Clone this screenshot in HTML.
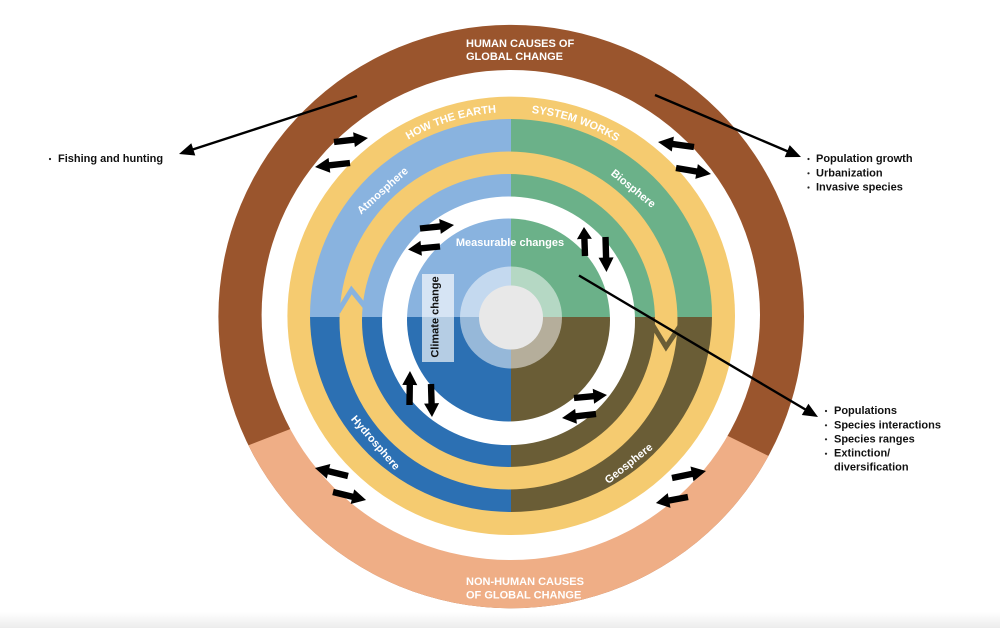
<!DOCTYPE html>
<html><head><meta charset="utf-8">
<style>
html,body{margin:0;padding:0;background:#fff;}
svg{display:block;}
text{font-family:"Liberation Sans",Arial,sans-serif;font-weight:bold;font-size:11px;}
</style></head>
<body>
<svg width="1000" height="628" viewBox="0 0 1000 628" xmlns="http://www.w3.org/2000/svg">
<defs>
 <g id="quads">
  <rect x="0" y="0" width="511" height="317" fill="#89B3DF"/>
  <rect x="511" y="0" width="489" height="317" fill="#6BB189"/>
  <rect x="0" y="317" width="511" height="311" fill="#2C70B3"/>
  <rect x="511" y="317" width="489" height="311" fill="#6A5D36"/>
 </g>
 <clipPath id="cOuter"><ellipse cx="511.2" cy="316.6" rx="292.8" ry="291.7"/></clipPath>
 <clipPath id="cBand"><ellipse cx="511" cy="315.5" rx="201" ry="196.5"/></clipPath>
 <clipPath id="cMid"><circle cx="508.5" cy="320.5" r="146.5"/></clipPath>
 <clipPath id="cDisk"><circle cx="508.5" cy="320" r="101.5"/></clipPath>
 <polygon id="ba" points="0,-3.2 20,-3.2 20,-7.5 34,0 20,7.5 20,3.2 0,3.2" fill="#000"/>
 <path id="arcTop" d="M366.75,171.75 A204,204 0 0 1 655.25,171.75" fill="none"/>
 <linearGradient id="gb" x1="0" y1="0" x2="0" y2="1"><stop offset="0" stop-color="#ffffff"/><stop offset="1" stop-color="#ececec"/></linearGradient>
</defs>

<rect width="1000" height="628" fill="#fff"/>
<rect x="0" y="612" width="1000" height="16" fill="url(#gb)"/>

<!-- outer causes ring -->
<ellipse cx="511.2" cy="316.6" rx="292.8" ry="291.7" fill="#9A552D"/>
<polygon clip-path="url(#cOuter)" points="150,483.6 320,417.5 700,422.2 860,501.1 860,640 150,640" fill="#EFAE86"/>
<ellipse cx="510.8" cy="315" rx="249.2" ry="245" fill="#fff"/>

<!-- outer yellow ring -->
<ellipse cx="511.2" cy="315.8" rx="223.8" ry="219.2" fill="#F5CB70"/>
<!-- sphere band -->
<use href="#quads" clip-path="url(#cBand)"/>
<!-- inner yellow cycle ring -->
<circle cx="508.5" cy="320.5" r="169" fill="#F5CB70"/>
<use href="#quads" clip-path="url(#cMid)"/>
<!-- chevron gaps -->
<polyline points="338,312 351.5,290 366,308" fill="none" stroke="#89B3DF" stroke-width="5"/>
<polyline points="652,324 666,347 680,326" fill="none" stroke="#6A5D36" stroke-width="5"/>

<!-- white gap and inner disk -->
<ellipse cx="508.5" cy="320.8" rx="126.5" ry="124.3" fill="#fff"/>
<use href="#quads" clip-path="url(#cDisk)"/>
<circle cx="511" cy="317.5" r="51" fill="#fff" fill-opacity="0.5"/>
<circle cx="511" cy="317.5" r="32" fill="#E8E8E8"/>

<!-- climate change box -->
<rect x="422" y="274" width="32" height="88" fill="#fff" fill-opacity="0.65"/>
<text transform="translate(435.5,317) rotate(-90)" text-anchor="middle" dominant-baseline="central" fill="#111">Climate change</text>

<!-- labels -->
<text fill="#fff" text-anchor="middle"><textPath href="#arcTop" startOffset="99">HOW THE EARTH</textPath></text>
<text fill="#fff" text-anchor="middle"><textPath href="#arcTop" startOffset="226">SYSTEM WORKS</textPath></text>
<text transform="translate(383,191) rotate(-42)" text-anchor="middle" dominant-baseline="central" fill="#fff">Atmosphere</text>
<text transform="translate(633,189) rotate(39)" text-anchor="middle" dominant-baseline="central" fill="#fff">Biosphere</text>
<text transform="translate(375,443) rotate(49)" text-anchor="middle" dominant-baseline="central" fill="#fff">Hydrosphere</text>
<text transform="translate(629,464) rotate(-38.5)" text-anchor="middle" dominant-baseline="central" fill="#fff">Geosphere</text>
<text x="510" y="243" text-anchor="middle" dominant-baseline="central" fill="#fff">Measurable changes</text>

<text x="466" y="47" fill="#fff">HUMAN CAUSES OF</text>
<text x="466" y="60" fill="#fff">GLOBAL CHANGE</text>
<text x="466" y="585" fill="#fff">NON-HUMAN CAUSES</text>
<text x="466" y="598.5" fill="#fff">OF GLOBAL CHANGE</text>

<!-- block arrows -->
<use href="#ba" transform="translate(334,142) rotate(-6.7) scale(1.006,1)"/>
<use href="#ba" transform="translate(350,163) rotate(173.5) scale(1.035,1)"/>
<use href="#ba" transform="translate(694,147) rotate(187.9) scale(1.068,1)"/>
<use href="#ba" transform="translate(676,168) rotate(9.7) scale(1.044,1)"/>
<use href="#ba" transform="translate(420,228.5) rotate(-5.9) scale(1.006,1)"/>
<use href="#ba" transform="translate(440,246.5) rotate(174.6) scale(0.944,1)"/>
<use href="#ba" transform="translate(585,256) rotate(-92) scale(0.853,1)"/>
<use href="#ba" transform="translate(605.5,237) rotate(88.4) scale(1.03,1)"/>
<use href="#ba" transform="translate(409.5,405) rotate(-89.2) scale(1,1)"/>
<use href="#ba" transform="translate(431,384) rotate(88.3) scale(0.97,1)"/>
<use href="#ba" transform="translate(574,398) rotate(-5.2) scale(0.974,1)"/>
<use href="#ba" transform="translate(596,414) rotate(173.3) scale(1.006,1)"/>
<use href="#ba" transform="translate(348,476) rotate(193.6) scale(1,1)"/>
<use href="#ba" transform="translate(333,492) rotate(13.6) scale(1,1)"/>
<use href="#ba" transform="translate(672,478) rotate(-11.6) scale(1.02,1)"/>
<use href="#ba" transform="translate(688,497) rotate(169.4) scale(0.96,1)"/>

<!-- connector lines -->
<line x1="357" y1="96" x2="188.5" y2="150.9" stroke="#000" stroke-width="2.4"/>
<polygon points="179,154 195.3,155.5 191.3,143.2" fill="#000"/>
<line x1="655" y1="95" x2="791.8" y2="153.1" stroke="#000" stroke-width="2.4"/>
<polygon points="801,157 784.7,157.1 789.7,145.1" fill="#000"/>
<line x1="579" y1="275.5" x2="809.4" y2="411.9" stroke="#000" stroke-width="2.4"/>
<polygon points="818,417 801.8,415 808.4,403.8" fill="#000"/>

<!-- lists -->
<circle cx="50" cy="159" r="1.1" fill="#222"/>
<text x="58" y="162" fill="#111">Fishing and hunting</text>

<circle cx="808.5" cy="159" r="1.1" fill="#222"/>
<text x="816" y="162" fill="#111">Population growth</text>
<circle cx="808.5" cy="173.3" r="1.1" fill="#222"/>
<text x="816" y="176.3" fill="#111">Urbanization</text>
<circle cx="808.5" cy="187.5" r="1.1" fill="#222"/>
<text x="816" y="190.5" fill="#111">Invasive species</text>

<circle cx="826" cy="411" r="1.1" fill="#222"/>
<text x="834" y="414" fill="#111">Populations</text>
<circle cx="826" cy="425.3" r="1.1" fill="#222"/>
<text x="834" y="428.3" fill="#111">Species interactions</text>
<circle cx="826" cy="439.3" r="1.1" fill="#222"/>
<text x="834" y="442.3" fill="#111">Species ranges</text>
<circle cx="826" cy="453.7" r="1.1" fill="#222"/>
<text x="834" y="456.7" fill="#111">Extinction/</text>
<text x="834" y="470.5" fill="#111">diversification</text>
</svg>
</body></html>
